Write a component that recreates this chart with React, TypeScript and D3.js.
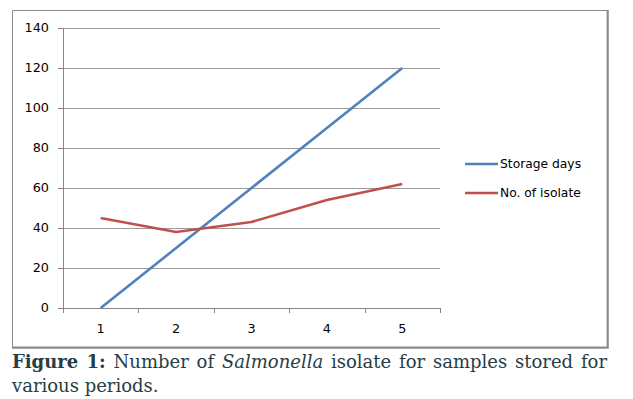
import { useEffect, useRef } from 'react';
import * as d3 from 'd3';

// chart data
const categories = ['1', '2', '3', '4', '5'];
const storageDays = [0, 30, 60, 90, 120];
const isolates = [45, 38, 43, 54, 62];
const yTicks = [0, 20, 40, 60, 80, 100, 120, 140];
const seriesNames = ['Storage days', 'No. of isolate'];
const seriesColors = ['#4f81bd', '#c0504d'];

const W = 633;
const H = 399;
const plot = { left: 63, right: 440, top: 28, bottom: 308 };
const chartFont = '"DejaVu Sans", sans-serif';
const captionFont = '"DejaVu Serif", serif';

const App = () => {
  const line1Ref = useRef<SVGTextElement>(null);

  const x = d3.scaleBand<string>().domain(categories).range([plot.left, plot.right]).padding(0);
  const y = d3.scaleLinear().domain([0, 140]).range([plot.bottom, plot.top]);

  const series = [storageDays, isolates];
  const line = d3.line<number>()
    .x((_, i) => (x(categories[i]) as number) + x.bandwidth() / 2)
    .y(d => y(d));

  // justify the first caption line like the printed figure
  useEffect(() => {
    const node = line1Ref.current;
    if (!node) return;
    node.setAttribute('word-spacing', '0');
    const natural = node.getComputedTextLength();
    const spaces = (node.textContent || '').split(' ').length - 1;
    const target = 595;
    node.setAttribute('word-spacing', String((target - natural) / spaces));
  }, []);

  const ticksX = [...categories.map(c => x(c) as number), plot.right];

  return (
    <div style={{ position: 'absolute', left: 0, top: 0 }}>
      <svg width={W} height={H} style={{ display: 'block', background: 'white' }}>
        {/* chart frame */}
        <path d="M12.5,348 V10.5 H608" fill="none" stroke="#8c8c8c" strokeWidth={1} />
        <path d="M607.7,10 V347.7 H12" fill="none" stroke="#8c8c8c" strokeWidth={2.2} />

        {/* gridlines */}
        {yTicks.filter(t => t > 0).map(t => (
          <line key={t} x1={plot.left} x2={plot.right} y1={Math.round(y(t)) + 0.5} y2={Math.round(y(t)) + 0.5}
            stroke="#9a9a9a" strokeWidth={1} />
        ))}

        {/* y axis */}
        <line x1={plot.left + 0.5} x2={plot.left + 0.5} y1={plot.top} y2={plot.bottom} stroke="#868686" />
        {yTicks.map(t => (
          <g key={t}>
            <line x1={plot.left - 5} x2={plot.left} y1={Math.round(y(t)) + 0.5} y2={Math.round(y(t)) + 0.5} stroke="#868686" />
            <text x={49} y={y(t)} dy="0.35em" textAnchor="end" fontFamily={chartFont} fontSize={12.8} fill="#000">{t}</text>
          </g>
        ))}

        {/* x axis */}
        <line x1={plot.left} x2={plot.right} y1={plot.bottom + 0.5} y2={plot.bottom + 0.5} stroke="#868686" />
        {ticksX.map((tx, i) => (
          <line key={i} x1={Math.round(tx) + 0.5} x2={Math.round(tx) + 0.5} y1={plot.bottom} y2={plot.bottom + 5} stroke="#868686" />
        ))}
        {categories.map(c => (
          <text key={c} x={(x(c) as number) + x.bandwidth() / 2} y={329} dy="0.35em" textAnchor="middle"
            fontFamily={chartFont} fontSize={12.8} fill="#000">{c}</text>
        ))}

        {/* series */}
        {series.map((s, i) => (
          <path key={i} d={line(s) || ''} fill="none" stroke={seriesColors[i]} strokeWidth={2.6} strokeLinejoin="round" />
        ))}

        {/* legend */}
        {seriesNames.map((n, i) => (
          <g key={n} transform={`translate(465, ${164 + i * 29})`}>
            <line x1={0} x2={33} y1={0} y2={0} stroke={seriesColors[i]} strokeWidth={2.6} />
            <text x={35} y={0} dy="0.35em" fontFamily={chartFont} fontSize={12.3} fill="#000">{n}</text>
          </g>
        ))}

        {/* caption */}
        <text ref={line1Ref} x={12} y={368} fontFamily={captionFont} fontSize={18} fill="#263d45">
          <tspan fontWeight="bold">Figure 1:</tspan> Number of <tspan fontStyle="italic">Salmonella</tspan> isolate for samples stored for
        </text>
        <text x={12} y={392} fontFamily={captionFont} fontSize={18} fill="#263d45">various periods.</text>
      </svg>
    </div>
  );
};

export default App;
